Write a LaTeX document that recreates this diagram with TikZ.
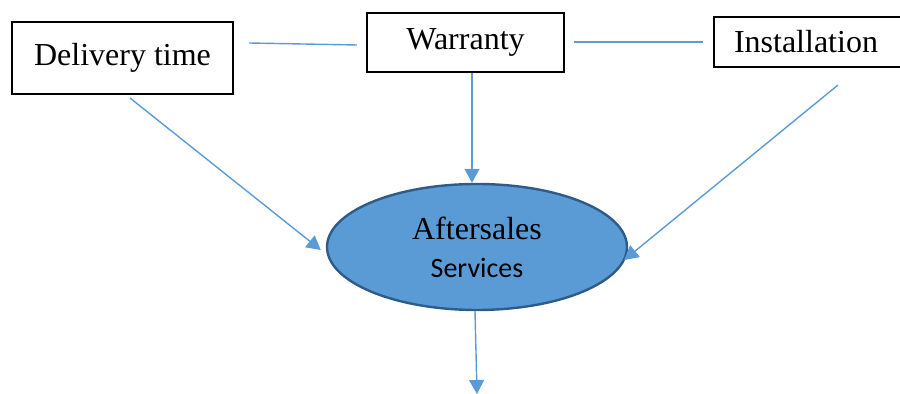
\documentclass[tikz,border=0pt]{standalone}
\usepackage{fontspec}
\setmainfont{Liberation Serif}
\newfontfamily\calibri{Carlito}
\usepackage{tikz}
\usetikzlibrary{arrows.meta, positioning, shapes.geometric}
\definecolor{lineblue}{HTML}{5B9BD5}
\definecolor{fillblue}{HTML}{5B9BD5}
\definecolor{edgeblue}{HTML}{2E5C8A}
\tikzstyle{factor}=[draw=black,line width=1pt,rectangle,inner sep=0pt,font=\fontsize{16}{19}\selectfont]
\tikzstyle{link}=[lineblue,line width=0.7pt]
\tikzstyle{arr}=[link,-{Triangle[width=7.5pt,length=7pt]}]
\tikzstyle{goal}=[ellipse,draw=edgeblue,fill=fillblue,line width=1.2pt,inner sep=0pt,minimum width=150pt,minimum height=63pt,font=\fontsize{16}{19}\selectfont]

\begin{document}
\begin{tikzpicture}[x=0.5pt,y=-0.5pt]
                    \clip (0,0) rectangle (900,394);
                    \node[factor,minimum width=110.5pt,minimum height=36pt] (delivery) at (122.5,58) {Delivery time};
                    \node[factor,minimum width=98.5pt,minimum height=29.5pt] (warranty) at (465.5,42.5) {Warranty};
                    \node[factor,anchor=north west,minimum height=25pt,text width=80pt,inner xsep=10pt,align=left] (install) at (713,16) {Installation};
                    \node[goal,align=center] (aftersales) at (477,247) {Aftersales\\{\calibri\fontsize{14}{17}\selectfont Services}};
                    \coordinate (result) at (477,394);
                    % plain links between the top boxes
                    \draw[link] ([shift={(15,-15)}]delivery.east) -- ([shift={(-9,2.5)}]warranty.west);
                    \draw[link] ([shift={(9,-0.5)}]warranty.east) -- ([shift={(-10,0)}]install.west);
                    % arrows into and out of the ellipse
                    \draw[arr] ([shift={(7.5,3)}]delivery.south) -- ([shift={(-5,3)}]aftersales.west);
                    \draw[arr] ([shift={(6.5,0)}]warranty.south) -- ([shift={(-5,0)}]aftersales.north);
                    \draw[arr] ([shift={(24,17)}]install.south) -- ([shift={(-4,13)}]aftersales.east);
                    \draw[arr] ([shift={(-2,0)}]aftersales.south) -- (result);
                \end{tikzpicture}
\end{document}
